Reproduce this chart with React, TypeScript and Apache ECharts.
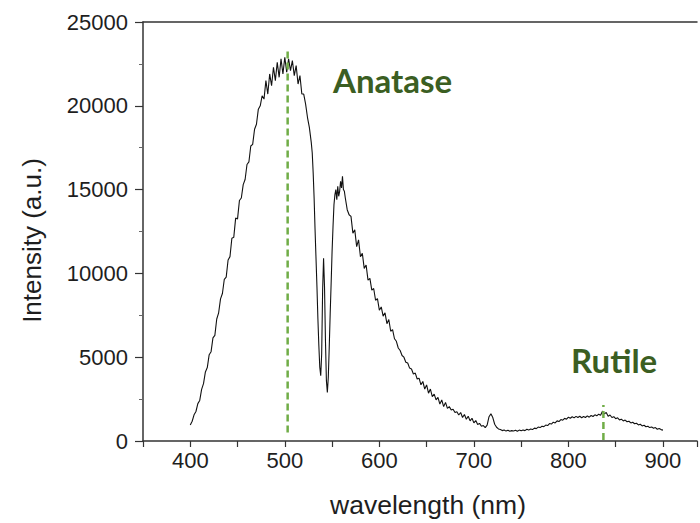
import React, { useEffect, useRef } from "react";
import * as echarts from "echarts";

const wavelengths: number[] = [
  400, 402, 404, 406, 408, 410, 412, 414, 416, 418, 420, 422, 424, 426, 428, 430, 432, 434, 436, 438,
  440, 442, 444, 446, 448, 450, 452, 454, 456, 458, 460, 462, 464, 466, 468, 470, 472, 474, 476, 478,
  480, 482, 484, 486, 488, 490, 492, 494, 496, 498, 500, 502, 504, 506, 508, 510, 512, 514, 516, 518,
  520, 522, 524, 526, 528, 529, 530, 531, 532, 533, 534, 535, 536, 537, 538, 539, 540, 541, 542, 543,
  544, 545, 546, 547, 548, 549, 550, 551, 552, 553, 554, 555, 556, 557, 558, 559, 560, 561, 562, 563,
  564, 566, 568, 570, 572, 574, 576, 578, 580, 582, 584, 586, 588, 590, 592, 594, 596, 598, 600, 602,
  604, 606, 608, 610, 612, 614, 616, 618, 620, 622, 624, 626, 628, 630, 632, 634, 636, 638, 640, 642,
  644, 646, 648, 650, 652, 654, 656, 658, 660, 662, 664, 666, 668, 670, 672, 674, 676, 678, 680, 682,
  684, 686, 688, 690, 692, 694, 696, 698, 700, 702, 704, 706, 708, 710, 712, 714, 716, 718, 720, 722,
  724, 726, 728, 730, 732, 734, 736, 738, 740, 742, 744, 746, 748, 750, 752, 754, 756, 758, 760, 762,
  764, 766, 768, 770, 772, 774, 776, 778, 780, 782, 784, 786, 788, 790, 792, 794, 796, 798, 800, 802,
  804, 806, 808, 810, 812, 814, 816, 818, 820, 822, 824, 826, 828, 830, 832, 834, 836, 838, 840, 842,
  844, 846, 848, 850, 852, 854, 856, 858, 860, 862, 864, 866, 868, 870, 872, 874, 876, 878, 880, 882,
  884, 886, 888, 890, 892, 894, 896, 898, 900,
];

const intensities: number[] = [
  950, 1180, 1560, 1760, 2230, 2420, 3080, 3420, 4120, 4380, 5150, 5330, 6150, 6300, 7280, 7650, 8480, 8800, 9650, 9780,
  10800, 11000, 12100, 12150, 13300, 13250, 14350, 14500, 15300, 15600, 16500, 16650, 17600, 17700, 18600, 18900, 19800, 20000, 20600, 20400,
  21500, 20700, 21900, 21200, 22300, 21500, 22600, 21700, 22800, 21900, 22900, 22000, 22800, 22100, 22700, 21800, 22400, 21300, 21800, 20700,
  20700, 20100, 19300, 18700, 17800, 17200, 16000, 14500, 12600, 10900, 9200, 7300, 5700, 4400, 3900, 5200, 9000, 10900, 9200, 6000,
  3600, 2900, 3800, 5600, 7600, 9400, 11300, 12800, 14100, 14700, 15000, 14400, 15200, 14600, 14900, 15500, 15100, 15800, 15000, 14900,
  14500, 13800, 13500, 13400, 12400, 12600, 11600, 12000, 11000, 11200, 10300, 10500, 9600, 9700, 9000, 9100, 8400, 8500, 7800, 8000,
  7450, 7650, 7000, 7250, 6550, 6650, 6100, 5950, 5550, 5400, 5100, 5000, 4700, 4650, 4350, 4300, 4000, 4050, 3700, 3750,
  3350, 3550, 3100, 3350, 2850, 3100, 2650, 2800, 2450, 2600, 2200, 2450, 2050, 2300, 1950, 2050, 1850, 1900, 1700, 1750,
  1550, 1700, 1400, 1580, 1300, 1480, 1200, 1360, 1080, 1220, 980, 1050, 880, 920, 800, 950, 1450, 1620, 1400, 1000,
  820, 720, 680, 620, 660, 590, 640, 580, 620, 600, 640, 580, 650, 610, 660, 620, 700, 650, 720, 680,
  770, 740, 830, 800, 880, 860, 950, 920, 1040, 1010, 1120, 1080, 1200, 1160, 1280, 1240, 1350, 1300, 1420, 1360,
  1450, 1380, 1470, 1400, 1480, 1390, 1460, 1400, 1500, 1420, 1520, 1460, 1560, 1500, 1600, 1540, 1780, 1620, 1700, 1480,
  1550, 1400, 1450, 1330, 1380, 1260, 1300, 1200, 1250, 1150, 1180, 1080, 1120, 1030, 1060, 960, 1000, 900, 940, 850,
  880, 800, 840, 760, 800, 700, 740, 680, 650,
];

// Reference markers: [wavelength, intensity] end points
const anataseMarker: number[][] = [
  [503, 500],
  [503, 23330],
];
const rutileMarker: number[][] = [
  [837, 60],
  [837, 2150],
];

const xAxisRange = { min: 350, max: 936, step: 50 };
const yAxisRange = { min: 0, max: 25000, step: 5000 };

const labelTexts = { anatase: "Anatase", rutile: "Rutile" };
const axisNames = { x: "wavelength (nm)", y: "Intensity (a.u.)" };

export default function App() {
  const ref = useRef<HTMLDivElement>(null);

  useEffect(() => {
    if (!ref.current) return;
    const chart = echarts.init(ref.current, null, { renderer: "svg" });
    const spectrum = wavelengths.map((w, i) => [w, intensities[i]]);
    const axisColor = "#333";
    const textColor = "#1e1e1e";
    const markerColor = "#70ad47";
    const labelColor = "#3b5e22";

    chart.setOption({
      animation: false,
      backgroundColor: "#ffffff",
      grid: { left: 143, right: 0, top: 22, bottom: 82, containLabel: false },
      xAxis: [
        {
          type: "value",
          position: "bottom",
          min: xAxisRange.min,
          max: xAxisRange.max,
          interval: xAxisRange.step,
          name: axisNames.x,
          nameLocation: "middle",
          nameGap: 50,
          nameTextStyle: {
            fontFamily: "Liberation Sans, Arial, sans-serif",
            fontSize: 26.5,
            color: textColor,
            padding: [0, 0, 0, 16],
          },
          axisLine: { show: true, onZero: false, lineStyle: { color: axisColor, width: 1.5 } },
          axisTick: { show: true, inside: false, length: 6, lineStyle: { color: axisColor, width: 1.2 } },
          axisLabel: {
            margin: 8,
            fontFamily: "Liberation Sans, Arial, sans-serif",
            fontSize: 22,
            color: textColor,
            formatter: (v: number) => (v % 100 === 0 ? String(v) : ""),
          },
          splitLine: { show: false },
        },
        {
          type: "value",
          position: "top",
          min: xAxisRange.min,
          max: xAxisRange.max,
          axisLine: { show: true, onZero: false, lineStyle: { color: axisColor, width: 1.5 } },
          axisTick: { show: false },
          axisLabel: { show: false },
          splitLine: { show: false },
        },
      ],
      yAxis: {
        type: "value",
        min: yAxisRange.min,
        max: yAxisRange.max,
        interval: yAxisRange.step,
        name: axisNames.y,
        nameLocation: "middle",
        nameGap: 98,
        nameTextStyle: {
          fontFamily: "Liberation Sans, Arial, sans-serif",
          fontSize: 26,
          color: textColor,
          padding: [0, 18, 0, 0],
        },
        axisLine: { show: true, onZero: false, lineStyle: { color: axisColor, width: 1.5 } },
        axisTick: { show: true, inside: false, length: 8, lineStyle: { color: axisColor, width: 1.2 } },
        minorTick: { show: true, splitNumber: 2, length: 4, lineStyle: { color: "#666", width: 1 } },
        axisLabel: {
          margin: 15,
          fontFamily: "Liberation Sans, Arial, sans-serif",
          fontSize: 22,
          color: textColor,
          formatter: (v: number) => String(v),
        },
        splitLine: { show: false },
      },
      series: [
        {
          type: "line",
          data: spectrum,
          showSymbol: false,
          symbol: "none",
          lineStyle: { color: "#111", width: 1.1 },
          z: 3,
        },
        {
          type: "line",
          data: anataseMarker,
          showSymbol: false,
          symbol: "none",
          lineStyle: { color: markerColor, width: 2.5, type: [7, 4] },
          z: 4,
        },
        {
          type: "line",
          data: rutileMarker,
          showSymbol: false,
          symbol: "none",
          lineStyle: { color: markerColor, width: 2.5, type: [7, 4] },
          z: 4,
        },
      ],
      graphic: [
        {
          type: "text",
          left: 333,
          top: 63,
          style: {
            text: labelTexts.anatase,
            fill: labelColor,
            font: "bold 33px Lato, 'Open Sans', sans-serif",
          },
        },
        {
          type: "text",
          left: 571,
          top: 343,
          style: {
            text: labelTexts.rutile,
            fill: labelColor,
            font: "bold 33px Lato, 'Open Sans', sans-serif",
          },
        },
      ],
    });

    return () => chart.dispose();
  }, []);

  return (
    <div
      ref={ref}
      style={{ position: "fixed", left: 0, top: 0, width: 700, height: 523, background: "#fff" }}
    />
  );
}
